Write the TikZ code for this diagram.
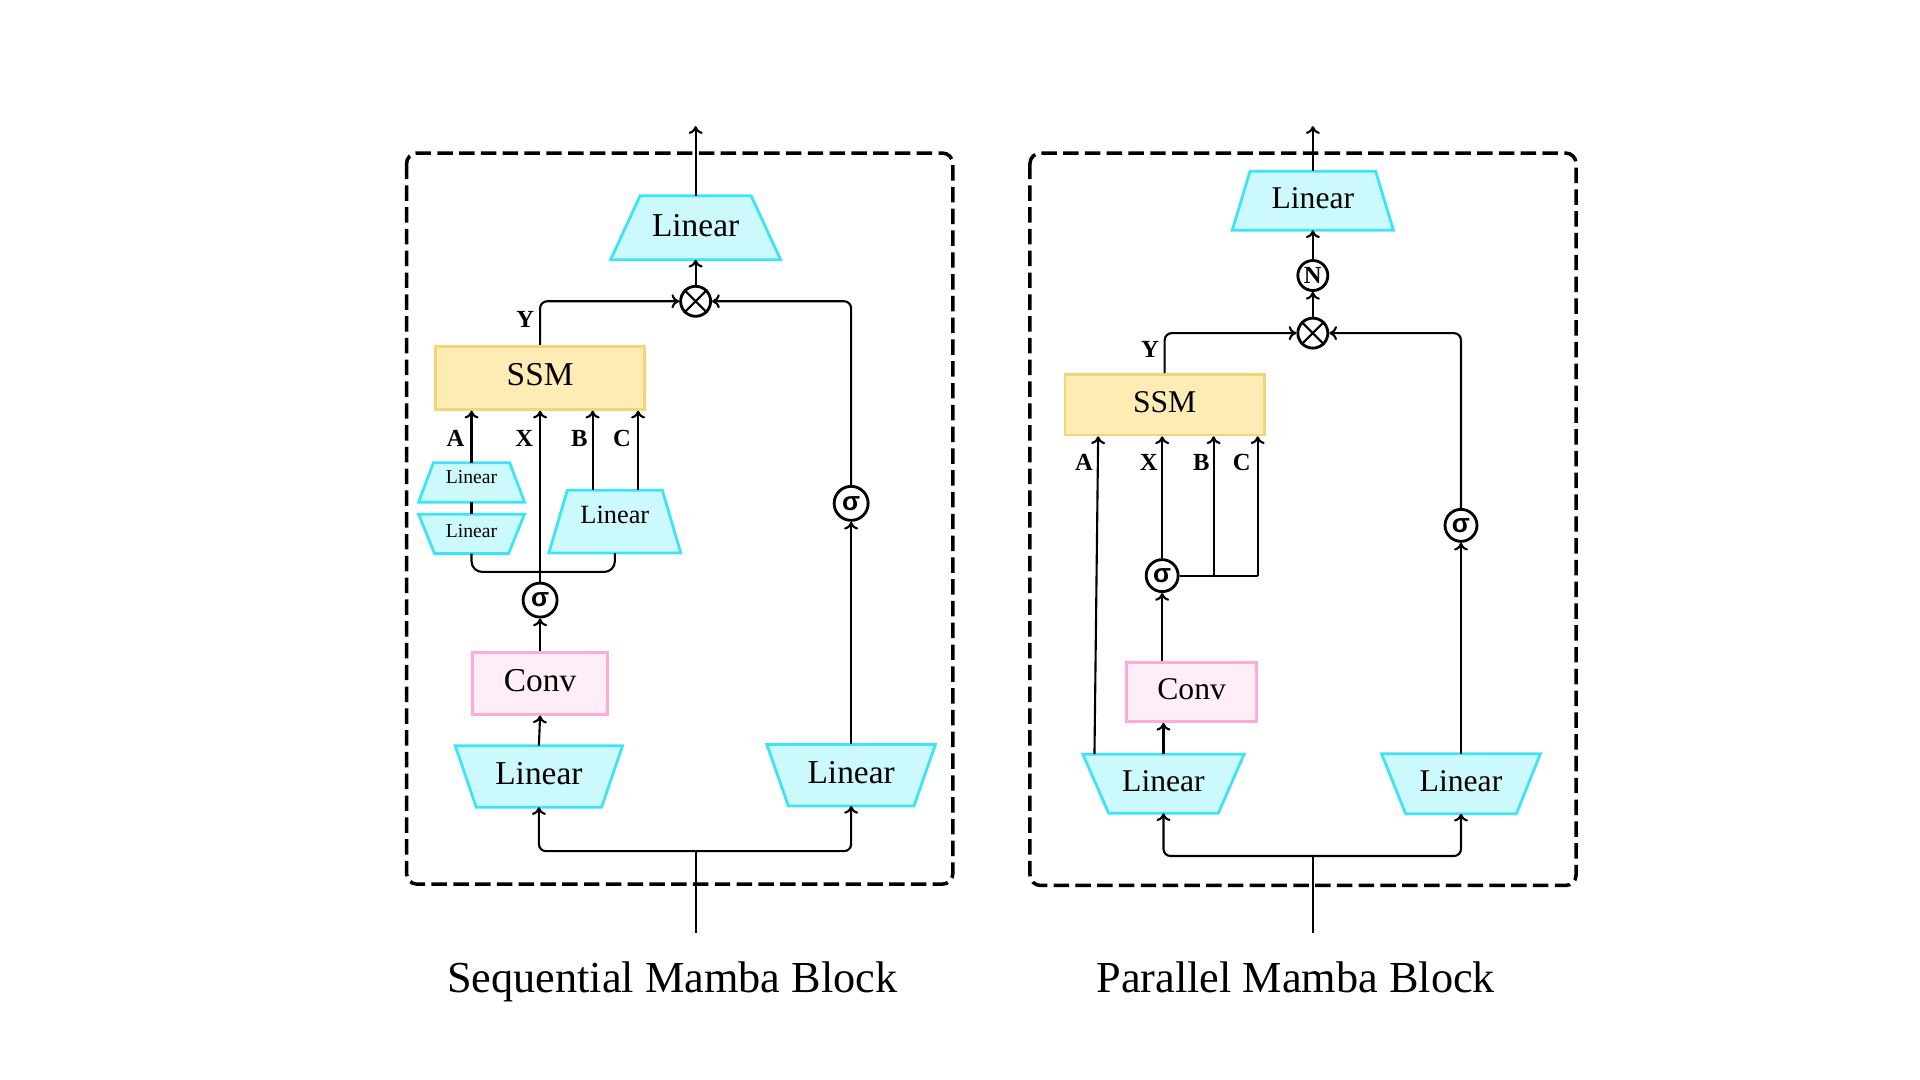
\documentclass[tikz,border=0pt]{standalone}
\usepackage{fontspec}
\setmainfont{Liberation Serif}
\newfontfamily\sigfont{Liberation Sans}
\usetikzlibrary{arrows.meta,backgrounds}
\definecolor{linfill}{RGB}{204,250,252}
\definecolor{linedge}{RGB}{62,228,245}
\definecolor{ssmfill}{RGB}{255,236,180}
\definecolor{ssmedge}{RGB}{244,212,120}
\definecolor{convfill}{RGB}{255,238,247}
\definecolor{convedge}{RGB}{255,170,216}
\tikzset{
  lin/.style={rectangle, inner sep=0pt, outer sep=0pt, text depth=0.05cm},
  linshape/.style={draw=linedge, fill=linfill, line width=0.8pt, line join=miter},
  ssmbox/.style={rectangle, draw=ssmedge, fill=ssmfill, line width=0.8pt, inner sep=0pt, text depth=0.06cm},
  convbox/.style={rectangle, draw=convedge, fill=convfill, line width=0.8pt, inner sep=0pt, text depth=0.05cm},
  op/.style={circle, draw, line width=0.8pt, inner sep=0pt, minimum size=0.3cm},
  sig/.style={op, minimum size=0.34cm, font=\sigfont\bfseries\fontsize{7.5}{7.5}\selectfont},
  lbl/.style={font=\bfseries\fontsize{7}{8}\selectfont, inner sep=0pt},
  wire/.style={line width=0.6pt},
  flow/.style={wire, -{To[length=2.2pt,width=4pt]}},
  block/.style={draw, line width=1pt, dash pattern=on 4.4pt off 1.8pt, rounded corners=3pt},
  caption/.style={font=\fontsize{12.6}{14}\selectfont, anchor=base},
}
% trapezoid behind a Linear node: narrow top / narrow bottom
\newcommand{\linup}[2]{\begin{scope}[on background layer]
  \draw[linshape] ([xshift=#2]#1.north west) -- ([xshift=-#2]#1.north east) -- (#1.south east) -- (#1.south west) -- cycle;
  \end{scope}}
\newcommand{\lindown}[2]{\begin{scope}[on background layer]
  \draw[linshape] (#1.north west) -- (#1.north east) -- ([xshift=-#2]#1.south east) -- ([xshift=#2]#1.south west) -- cycle;
  \end{scope}}
\begin{document}
\begin{tikzpicture}[x=0.995cm, y=0.995cm]
    \useasboundingbox (0,0) rectangle (19.296,-10.854);
    % sequential block
    \draw[block] (4.086,-1.538) rectangle (9.576,-8.886);
    \node[lin, minimum width=1.70cm, minimum height=0.64cm, font=\fontsize{9.5}{11}\selectfont] (seqlin0) at (6.991,-2.289) {Linear};
    \linup{seqlin0}{0.295cm}
    \node[op] (seqmul) at (6.991,-3.028) {};
    \draw[wire] (seqmul.north east) -- (seqmul.south west) (seqmul.north west) -- (seqmul.south east);
    \node[ssmbox, minimum width=2.09cm, minimum height=0.63cm, font=\fontsize{9.5}{11}\selectfont] (seqssm) at (5.428,-3.797) {SSM};
    \node[lin, minimum width=1.06cm, minimum height=0.394cm, text depth=0.1cm, font=\fontsize{5.6}{6}\selectfont] (seqA1) at (4.739,-4.849) {Linear};
    \linup{seqA1}{0.148cm}
    \node[lin, minimum width=1.06cm, minimum height=0.394cm, font=\fontsize{5.6}{6}\selectfont] (seqA2) at (4.739,-5.366) {Linear};
    \lindown{seqA2}{0.16cm}
    \node[lin, minimum width=1.32cm, minimum height=0.628cm, text depth=0.14cm, font=\fontsize{7.5}{8}\selectfont] (seqbc) at (6.179,-5.243) {Linear};
    \linup{seqbc}{0.185cm}
    \node[sig] (seqsig) at (5.428,-6.031) {σ};
    \node[convbox, minimum width=1.354cm, minimum height=0.615cm, font=\fontsize{9.5}{11}\selectfont] (seqconv) at (5.428,-6.868) {Conv};
    \node[lin, minimum width=1.674cm, minimum height=0.615cm, font=\fontsize{9.5}{11}\selectfont] (seqlinL) at (5.416,-7.803) {Linear};
    \lindown{seqlinL}{0.21cm}
    \node[lin, minimum width=1.686cm, minimum height=0.615cm, font=\fontsize{9.5}{11}\selectfont] (seqlinR) at (8.554,-7.791) {Linear};
    \lindown{seqlinR}{0.215cm}
    \node[sig] (seqgate) at (8.554,-5.059) {σ};
    \coordinate (seqout) at (6.991,-1.268);
    \coordinate (seqin) at (6.991,-9.379);
    \coordinate (seqsplit) at (6.991,-8.554);
    \coordinate (seqjoin) at (5.428,-5.748);
    \coordinate (seqB) at ([xshift=-0.222cm]seqbc.north);
    \coordinate (seqC) at ([xshift=0.233cm]seqbc.north);
    \node[lbl] (seqYl) at (5.28,-3.212) {Y};
    \node[lbl] (seqAl) at (4.579,-4.406) {A};
    \node[lbl] (seqXl) at (5.268,-4.406) {X};
    \node[lbl] (seqBl) at (5.822,-4.406) {B};
    \node[lbl] (seqCl) at (6.252,-4.406) {C};
    \draw[flow] (seqlin0.north) -- (seqout);
    \draw[flow] (seqmul.north) -- (seqlin0.south);
    \draw[flow, rounded corners=2pt] (seqssm.north) |- (seqmul.west);
    \draw[flow, rounded corners=2pt] (seqgate.north) |- (seqmul.east);
    \draw[flow] (seqA1.north) -- (seqA1.north |- seqssm.south);
    \draw[wire] (seqA1.south) -- (seqA2.north);
    \draw[flow] (seqsig.north) -- (seqsig.north |- seqssm.south);
    \draw[flow] (seqB) -- (seqB |- seqssm.south);
    \draw[flow] (seqC) -- (seqC |- seqssm.south);
    \draw[wire, rounded corners=3pt] (seqA2.south) |- (seqjoin) -| (seqbc.south);
    \draw[flow] (seqconv.north) -- (seqsig.south);
    \draw[flow] (seqlinL.north) -- (seqconv.south);
    \draw[flow] (seqlinR.north) -- (seqgate.south);
    \draw[wire] (seqin) -- (seqsplit);
    \draw[flow, rounded corners=2pt] (seqsplit) -| (seqlinL.south);
    \draw[flow, rounded corners=2pt] (seqsplit) -| (seqlinR.south);
    \node[caption] (seqcap) at (6.757,-9.97) {Sequential Mamba Block};
    % parallel block
    \draw[block] (10.351,-1.538) rectangle (15.840,-8.899);
    \node[lin, minimum width=1.612cm, minimum height=0.591cm, font=\fontsize{9}{11}\selectfont] (parlin0) at (13.194,-2.018) {Linear};
    \linup{parlin0}{0.178cm}
    \node[op, font=\bfseries\fontsize{7}{7}\selectfont] (parnorm) at (13.194,-2.769) {N};
    \node[op] (parmul) at (13.194,-3.348) {};
    \draw[wire] (parmul.north east) -- (parmul.south west) (parmul.north west) -- (parmul.south east);
    \node[ssmbox, minimum width=1.994cm, minimum height=0.603cm, font=\fontsize{9}{11}\selectfont] (parssm) at (11.705,-4.068) {SSM};
    \node[sig, minimum size=0.32cm] (parsig) at (11.68,-5.785) {σ};
    \node[convbox, minimum width=1.305cm, minimum height=0.591cm, font=\fontsize{9}{11}\selectfont] (parconv) at (11.976,-6.954) {Conv};
    \node[lin, minimum width=1.612cm, minimum height=0.591cm, font=\fontsize{9}{11}\selectfont] (parlinL) at (11.693,-7.877) {Linear};
    \lindown{parlinL}{0.258cm}
    \node[lin, minimum width=1.588cm, minimum height=0.60cm, font=\fontsize{9}{11}\selectfont] (parlinR) at (14.683,-7.877) {Linear};
    \lindown{parlinR}{0.24cm}
    \node[sig, minimum size=0.32cm] (pargate) at (14.683,-5.28) {σ};
    \coordinate (parout) at (13.194,-1.268);
    \coordinate (parin) at (13.194,-9.379);
    \coordinate (parsplit) at (13.194,-8.603);
    \coordinate (parB) at (12.197,-5.785);
    \coordinate (parC) at (12.640,-5.785);
    \node[lbl] (parYl) at (11.557,-3.508) {Y};
    \node[lbl] (parAl) at (10.893,-4.652) {A};
    \node[lbl] (parXl) at (11.545,-4.652) {X};
    \node[lbl] (parBl) at (12.074,-4.652) {B};
    \node[lbl] (parCl) at (12.48,-4.652) {C};
    \draw[flow] (parlin0.north) -- (parout);
    \draw[flow] (parnorm.north) -- (parlin0.south);
    \draw[flow] (parmul.north) -- (parnorm.south);
    \draw[flow, rounded corners=2pt] (parssm.north) |- (parmul.west);
    \draw[flow, rounded corners=2pt] (pargate.north) |- (parmul.east);
    \draw[flow] ([xshift=-0.69cm]parlinL.north) -- ([xshift=-0.665cm]parssm.south);
    \draw[flow] (parsig.north) -- (parsig.north |- parssm.south);
    \draw[wire] (parsig.east) -- (parC);
    \draw[flow] (parB) -- (parB |- parssm.south);
    \draw[flow] (parC) -- (parC |- parssm.south);
    \draw[flow] (parsig |- parconv.north) -- (parsig.south);
    \draw[flow] (parlinL.north) -- (parlinL.north |- parconv.south);
    \draw[flow] (parlinR.north) -- (pargate.south);
    \draw[wire] (parin) -- (parsplit);
    \draw[flow, rounded corners=2pt] (parsplit) -| (parlinL.south);
    \draw[flow, rounded corners=2pt] (parsplit) -| (parlinR.south);
    \node[caption] (parcap) at (13.022,-9.97) {Parallel Mamba Block};
\end{tikzpicture}
\end{document}
